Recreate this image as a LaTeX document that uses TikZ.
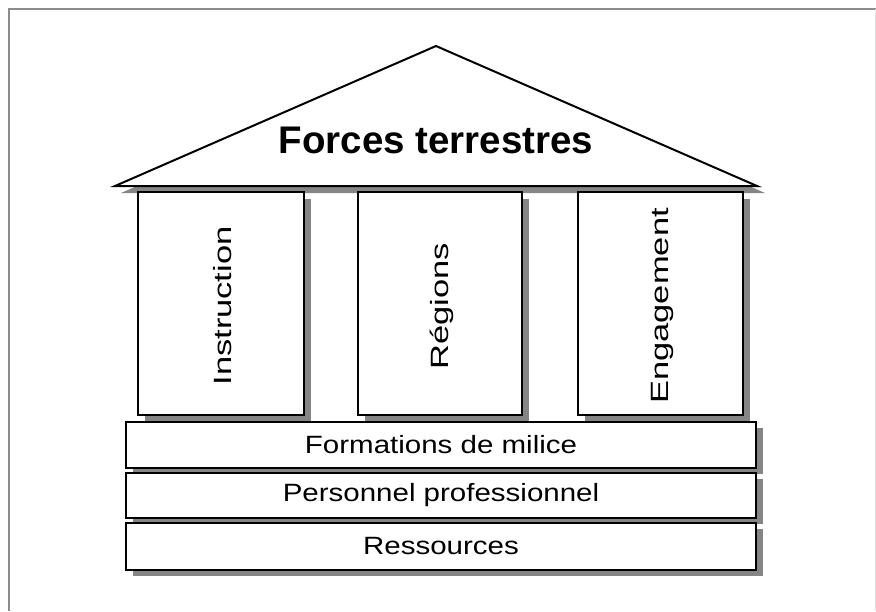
\documentclass[tikz,border=0pt]{standalone}
\usepackage{fontspec}
\setmainfont{Liberation Sans}
\usepackage{graphicx}
\tikzset{
  shade box/.style={fill=black!48, draw=none},
  part box/.style={draw=black, line width=2pt, fill=white},
  frame line/.style={draw=black!45, line width=1.5pt},
  pillar text/.style={rotate=90, inner sep=0pt, font=\fontsize{25}{30}\selectfont},
  bar text/.style={inner sep=0pt, font=\fontsize{25}{30}\selectfont},
}
\begin{document}
\begin{tikzpicture}[x=1pt,y=-1pt]
\useasboundingbox (0,0) rectangle (876,611);
\fill[white] (0,0) rectangle (876,611);
% frame
\draw[frame line] (9,611) -- (9,9) -- (876,9);
\draw[draw=black!12, line width=1pt] (875,9) -- (875,611);
% roof
\fill[black!48] (121,193) -- (443,53) -- (765,193) -- cycle;
\draw[part box, line join=miter] (115,186) -- (436,46) -- (757,186) -- cycle;
\node[inner sep=0pt, anchor=base, font=\fontsize{38.5}{44}\selectfont\bfseries] (title) at (436,153) {Forces terrestres};
% pillars
\foreach \nm/\xa/\xb/\lab in {inst/138/304/Instruction, reg/358/522/Régions, eng/578/743/Engagement}{
  \fill[shade box] (\xa+7,192+7) rectangle (\xb+7,415+7);
  \draw[part box] (\xa,192) rectangle (\xb,415);
  \coordinate (\nm-c) at ({(\xa+\xb)/2+2},306);
  \node[pillar text] (\nm) at (\nm-c) {\scalebox{1.38}[1]{\lab}};
}
% bars
\foreach \nm/\ya/\yb/\lab in {form/422/468/Formations de milice, pers/473/518/Personnel professionnel, res/523/570/Ressources}{
  \fill[shade box] (126+7,\ya+6) rectangle (756+7,\yb+6);
  \draw[part box] (126,\ya) rectangle (756,\yb);
  \coordinate (\nm-c) at (441,{(\ya+\yb)/2});
  \node[bar text] (\nm) at (\nm-c) {\scalebox{1.18}[1]{\lab}};
}
\end{tikzpicture}
\end{document}
